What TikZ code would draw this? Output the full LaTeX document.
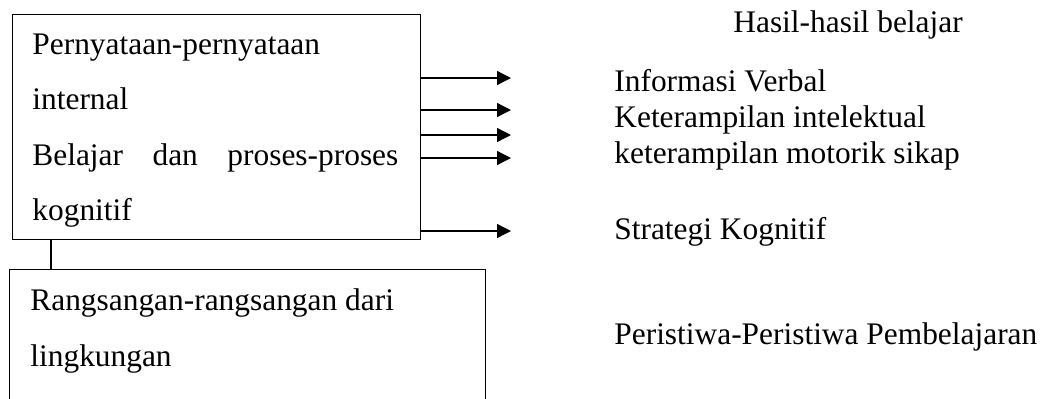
\documentclass[tikz,border=0pt]{standalone}
\usepackage{fontspec}
\setmainfont{Liberation Serif}
\usetikzlibrary{arrows.meta}

\tikzset{
  kotak/.style={draw, line width=.65pt, anchor=north west, inner sep=0pt},
  teks/.style={draw=none, anchor=base west, inner sep=0pt, font=\fontsize{15.7}{18}\selectfont},
  panah/.style={line width=.65pt, -{Triangle[length=7pt,width=7pt]}}
}

\begin{document}
\begin{tikzpicture}[x=.5pt, y=-.5pt]
             \clip (0,0) rectangle (1051,398);

             % kotak atas
             \node[kotak, minimum width=204pt, minimum height=112.5pt] (intern) at (12,14) {};
             \node[teks] (pern) at (32,54) {Pernyataan-pernyataan};
             \node[teks] (inter) at (32,109) {internal};
             \node[teks] (bel) at (32,165) {\hbox to 183pt{Belajar\hfill dan\hfill proses-proses}};
             \node[teks] (kog) at (32,220) {kognitif};

             % kotak bawah
             \node[kotak, minimum width=238pt, minimum height=80pt] (rangs) at (9,269) {};
             \node[teks] (rang) at (30,310) {Rangsangan-rangsangan dari};
             \node[teks] (ling) at (30,366) {lingkungan};

             \draw[line width=.65pt] ([xshift=19.5pt]intern.south west) -- ([xshift=21pt]rangs.north west);

             % hasil belajar
             \node[teks] (hasil) at (733,32) {Hasil-hasil belajar};
             \node[teks] (info) at (614,91) {Informasi Verbal};
             \node[teks] (ketint) at (614,127) {Keterampilan intelektual};
             \node[teks] (ketmot) at (614,163) {keterampilan motorik sikap};
             \node[teks] (strat) at (614,239) {Strategi Kognitif};
             \node[teks] (peris) at (614,344) {Peristiwa-Peristiwa Pembelajaran};

             \foreach \y/\n in {78/a, 110/b, 135/c, 158/d, 231/e}{
               \coordinate (ujung\n) at (511,\y);
               \draw[panah] (intern.east |- ujung\n) -- (ujung\n);
             }
\end{tikzpicture}
\end{document}
